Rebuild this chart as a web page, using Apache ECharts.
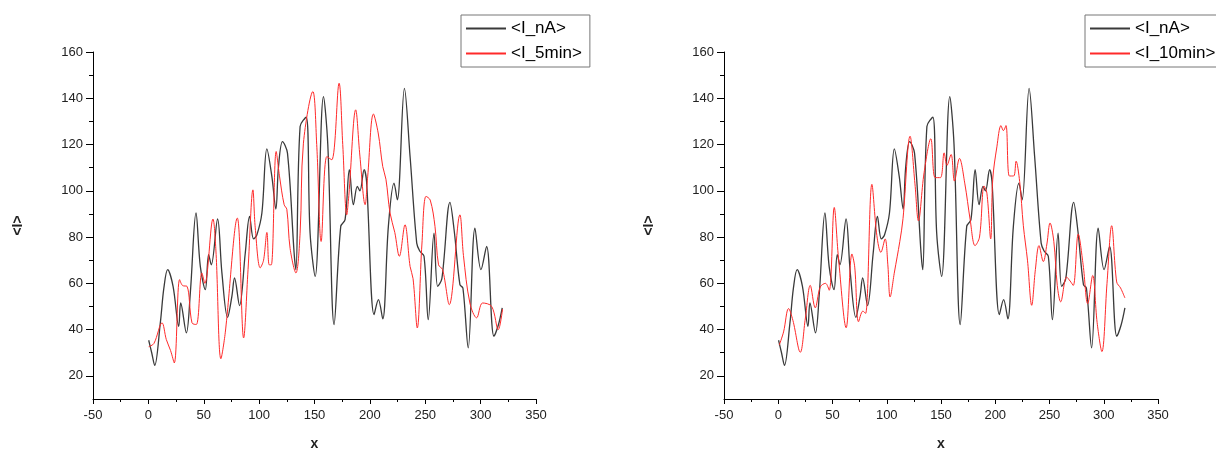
<!DOCTYPE html>
<html lang="en">
<head>
    <meta charset="UTF-8">
    <title>I profiles</title>
    <script type="text/javascript" src="https://cdn.jsdelivr.net/npm/echarts@6/dist/echarts.min.js"></script>
    <style>
        html, body {
            margin: 0;
            padding: 0;
            background: #fff;
        }
        #chart {
            width: 1216px;
            height: 450px;
        }
    </style>
</head>
<body>
<div id="chart"></div>
<script>
    // <I_nA> (same curve in both panels)
    var xNA = [0.3, 3, 5.7, 10.8, 14, 17.4, 22.3, 27.4, 29.2, 34.3, 37.9, 43, 46.9, 51.4, 54.4, 56.8, 62.5, 66.4, 71.5, 75.4,
        77.8, 82.3, 87.5, 91.4, 95, 98, 102.5, 107, 111.5, 115.1, 117.5, 121.1, 125.6, 131.6, 133.2, 137, 142.5, 146, 150.6, 158.1,
        162, 167.7, 173.7, 177.6, 181.5, 185.1, 188.7, 191, 194.8, 197, 203.8, 207.7, 211.6, 216.7, 221.8, 224.8, 231.2, 236.3, 242.3, 245,
        248.9, 252.7, 257.9, 261.2, 265, 272.3, 276.2, 281.3, 284, 288.8, 294.9, 300.3, 305.4, 312, 316, 319.5];
    var yNA = [35.4, 30, 24.5, 43, 58, 65.9, 58.7, 41.4, 51.5, 38.6, 56, 90.4, 67.3, 57.3, 72.4, 68, 87.8, 64.5, 45.3, 54.4,
        62.3, 50.4, 73.1, 88.9, 79.2, 81, 90.4, 118.1, 106.2, 92.1, 110.5, 121.3, 116.3, 73.1, 65.9, 127.8, 131.8, 81.9, 63, 140.7,
        120, 42.2, 84.6, 87.5, 109.1, 94, 101.9, 100, 109.1, 104, 46.5, 53, 44.6, 84.6, 103.3, 96.1, 144.3, 114.8, 77.4, 74,
        71.7, 44.3, 81.7, 58.7, 62, 95, 82.5, 59.4, 58, 32.1, 83.9, 65.9, 76, 37.1, 42, 49.4];

    // <I_5min>
    var x5 = [0.3, 5, 12.3, 16.2, 20, 23.4, 28.2, 31, 34.9, 39.4, 43.3, 48.3, 51, 58.3, 61, 65.5, 69.4, 80.3, 86, 90,
        94.4, 96.5, 101, 104, 107, 109.1, 111, 115.4, 118.5, 122.6, 125, 128, 133.2, 137, 140, 148.5, 152, 156, 161.1, 165.6,
        172.2, 175.5, 179.1, 181, 187.2, 191, 195.7, 198, 203.2, 207.5, 211.6, 214.5, 218.2, 222.5, 226.6, 231.7, 236.3, 239, 242.8, 247,
        250.7, 254.5, 258.8, 262, 265.7, 271.7, 281.3, 284.5, 290.3, 296.4, 301.8, 310, 315.9, 319.8];
    var y5 = [32.6, 34, 42.9, 35.7, 31, 25.6, 61.6, 59, 58.7, 42.9, 42.2, 64.5, 60, 87.8, 74, 27.4, 38.6, 88.2, 36.4, 66,
        100.4, 84, 66.7, 70, 82, 68, 68, 117, 106, 94, 92, 75, 64.5, 81.7, 120.6, 142.9, 120, 78.1, 114.8, 113.4,
        146.5, 120, 89.6, 98, 135, 115, 94, 106, 133.2, 125, 110.5, 105, 90.4, 82, 71.7, 85.3, 67.3, 62, 40.7, 77,
        97.6, 96, 84.6, 68, 65.9, 50.8, 89.6, 72, 51.5, 45.1, 51.5, 50, 40, 48.9];

    // <I_10min>
    var x10 = [0.9, 4.9, 9.5, 13.5, 20.3, 25, 29.5, 34.1, 38.7, 43.5, 47, 51.6, 55.5, 62.6, 67.9, 70.5, 74, 78, 80.5, 86.3,
        90.9, 94.6, 98.5, 101, 103.1, 107.1, 112, 115, 121.5, 126, 129.2, 134.4, 140.6, 144.6, 149.5, 152.9, 155.5, 159.3, 162.4, 167,
        172, 176.8, 181.4, 185.5, 189.7, 192.3, 195.8, 197.7, 201.5, 205.3, 207.5, 209.9, 213, 217, 219.2, 222.5, 225.9, 229.7, 233.6, 237,
        240.3, 244.3, 247.6, 250.5, 254, 257.2, 260.3, 265.8, 269, 271.9, 276.5, 281, 285.2, 289.8, 293.9, 298.3, 303, 307.3, 311.9, 315.5, 319.5];
    var y10 = [33.3, 39, 49.1, 44, 30.2, 45, 59.1, 49.4, 58.4, 60, 57, 92.8, 71, 40.8, 72.7, 67, 43.4, 48, 47, 102.8,
        80.6, 73.4, 79.2, 68, 54.1, 64.9, 78, 88, 123.6, 103, 87, 107.8, 122.5, 105.7, 105.7, 116.4, 111, 115.7, 104.2, 114,
        103, 87.8, 76.3, 80, 102.1, 99, 79.2, 105, 119, 128.2, 126, 128.2, 106.4, 106.4, 112.8, 104, 84.9, 70, 50.5, 66,
        76.3, 69.4, 77, 86.1, 78, 59, 52, 62.7, 61, 59.1, 81.3, 68, 51.2, 63.4, 43, 30.5, 60, 84.9, 60.6, 58, 53.7];

    var yTicks = [20, 40, 60, 80, 100, 120, 140, 160];
    var yMinorTicks = [30, 50, 70, 90, 110, 130, 150];

    function pairs(xs, ys) {
        var out = [];
        for (var i = 0; i < xs.length; i++) {
            out.push([xs[i], ys[i]]);
        }
        return out;
    }

    var chart = echarts.init(document.getElementById('chart'), null, {renderer: 'canvas'});

    var FONT = 'Liberation Sans, Arial, sans-serif';
    var titleStyle = {fontFamily: FONT, fontSize: 14, fontWeight: 'bold', color: '#222'};

    function makeX(idx) {
        return {
            type: 'value', gridIndex: idx, min: -50, max: 350, interval: 50,
            name: 'x', nameLocation: 'middle', nameGap: 38, nameTextStyle: titleStyle,
            axisLine: {onZero: false, lineStyle: {color: '#000', width: 1}},
            axisTick: {length: 5, lineStyle: {color: '#000'}},
            minorTick: {show: true, splitNumber: 2, length: 3, lineStyle: {color: '#000'}},
            axisLabel: {margin: 10, fontFamily: FONT, fontSize: 13, color: '#222'},
            splitLine: {show: false}
        };
    }

    function makeY(idx) {
        return {
            type: 'value', gridIndex: idx, min: 10, max: 160, interval: 10,
            name: '<I>', nameLocation: 'middle', nameGap: 68, nameRotate: 90, nameTextStyle: titleStyle,
            axisLine: {onZero: false, lineStyle: {color: '#000', width: 1}},
            axisTick: {length: 7, customValues: yTicks, lineStyle: {color: '#000'}},
            axisLabel: {margin: 10, customValues: yTicks, fontFamily: FONT, fontSize: 13, color: '#222'},
            splitLine: {show: false}
        };
    }

    // overlay axis only for the short minor ticks on y
    function makeYMinor(idx) {
        return {
            type: 'value', gridIndex: idx, min: 10, max: 160, interval: 10, position: 'left',
            axisLine: {show: false, onZero: false},
            axisTick: {length: 4, customValues: yMinorTicks, lineStyle: {color: '#000'}},
            axisLabel: {show: false},
            splitLine: {show: false}
        };
    }

    var legendBase = {
        orient: 'vertical', top: 15, itemWidth: 40, itemHeight: 14, itemGap: 8,
        padding: [5, 8, 5, 4], borderColor: '#777', borderWidth: 1, borderRadius: 0,
        itemStyle: {opacity: 0},
        textStyle: {fontFamily: FONT, fontSize: 17, color: '#000'},
        selectedMode: false
    };

    function line(name, data, color, width, xi) {
        return {
            name: name, type: 'line', xAxisIndex: xi, yAxisIndex: xi,
            data: data, symbol: 'none', smooth: 0.35,
            lineStyle: {color: color, width: width},
            itemStyle: {color: color},
            animation: false
        };
    }

    var option = {
        backgroundColor: '#fff',
        animation: false,
        grid: [
            {left: 93, top: 52, width: 443, height: 347, outerBoundsMode: 'none'},
            {left: 724, top: 52, width: 434, height: 347, outerBoundsMode: 'none'}
        ],
        xAxis: [makeX(0), makeX(1)],
        yAxis: [makeY(0), makeY(1), makeYMinor(0), makeYMinor(1)],
        legend: [
            Object.assign({left: 461, data: ['<I_nA>', '<I_5min>']}, legendBase),
            Object.assign({left: 1085, data: ['<I_nA>', '<I_10min>']}, legendBase)
        ],
        series: [
            line('<I_nA>', pairs(xNA, yNA), '#3a3a3a', 1.3, 0),
            line('<I_5min>', pairs(x5, y5), '#ff2a2a', 1, 0),
            line('<I_nA>', pairs(xNA, yNA), '#3a3a3a', 1.3, 1),
            line('<I_10min>', pairs(x10, y10), '#ff2a2a', 1, 1)
        ]
    };
    chart.setOption(option);
</script>
</body>
</html>
